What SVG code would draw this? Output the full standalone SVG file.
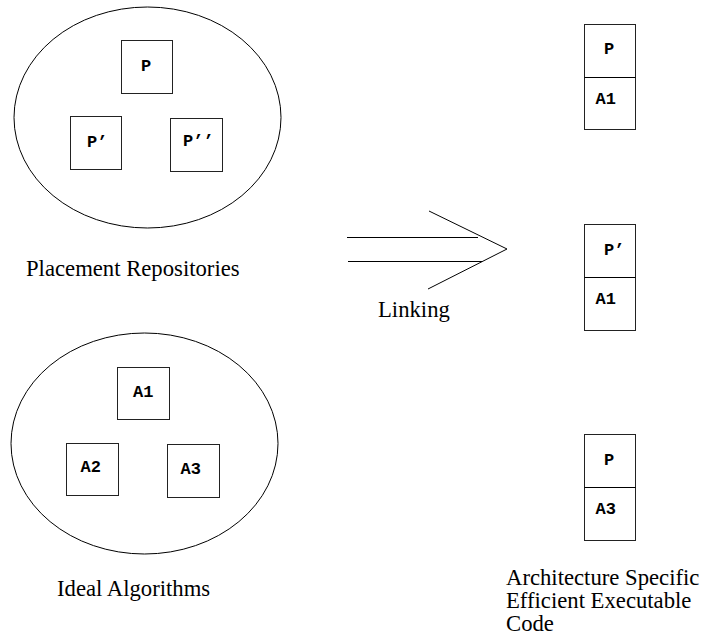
<svg xmlns="http://www.w3.org/2000/svg" width="702" height="636" viewBox="0 0 702 636">
  <style>
    .shape { fill: none; stroke: #000; stroke-width: 1; }
    .box { fill: #fff; stroke: #222; stroke-width: 1; }
    .code { font-family: "Liberation Mono", "Courier New", monospace; font-weight: bold; font-size: 17px; fill: #000; }
    .label { font-family: "Liberation Serif", "Times New Roman", serif; font-size: 22.7px; fill: #000; }
  </style>
  <rect width="702" height="636" fill="#fff"/>

  <!-- Placement repositories -->
  <g id="placement-repos">
    <ellipse class="shape" cx="147.5" cy="117.5" rx="133.5" ry="110.5"/>
  </g>
  <g id="repo-P">
    <rect class="box" x="121.5" y="40.5" width="51" height="53"/>
    <text class="code" x="141" y="71">P</text>
  </g>
  <g id="repo-P1">
    <rect class="box" x="70.5" y="116.5" width="51" height="53"/>
    <text class="code" x="87" y="147">P’</text>
  </g>
  <g id="repo-P2">
    <rect class="box" x="170.5" y="118.5" width="52" height="53"/>
    <text class="code" x="183" y="146">P’’</text>
  </g>
  <text id="label-placement" class="label" x="26" y="276">Placement Repositories</text>

  <!-- Ideal algorithms -->
  <g id="ideal-algos">
    <ellipse class="shape" cx="144.5" cy="443.5" rx="133.5" ry="110.5"/>
  </g>
  <g id="algo-A1">
    <rect class="box" x="117.5" y="367.5" width="52" height="52"/>
    <text class="code" x="133" y="397">A1</text>
  </g>
  <g id="algo-A2">
    <rect class="box" x="66.5" y="443.5" width="52" height="52"/>
    <text class="code" x="80.5" y="472">A2</text>
  </g>
  <g id="algo-A3">
    <rect class="box" x="167.5" y="444.5" width="52" height="53"/>
    <text class="code" x="180.5" y="473.5">A3</text>
  </g>
  <text id="label-ideal" class="label" x="57" y="596">Ideal Algorithms</text>

  <!-- Linking arrow -->
  <g id="connectors">
    <line class="shape" x1="347" y1="237.5" x2="478" y2="237.5"/>
    <line class="shape" x1="348" y1="261.5" x2="482" y2="261.5"/>
    <polyline class="shape" points="429,211 507,249 428,289"/>
  </g>
  <text id="label-linking" class="label" x="378" y="317">Linking</text>

  <!-- Linked executables -->
  <g id="exec-P-A1">
    <rect class="box" x="584.5" y="24.5" width="51" height="105"/>
    <line class="shape" x1="584.5" y1="77.5" x2="635.5" y2="77.5"/>
    <text class="code" x="604" y="53.5">P</text>
    <text class="code" x="595.5" y="103.5">A1</text>
  </g>
  <g id="exec-P1-A1">
    <rect class="box" x="584.5" y="224.5" width="51" height="106"/>
    <line class="shape" x1="584.5" y1="277.5" x2="635.5" y2="277.5"/>
    <text class="code" x="604" y="255">P’</text>
    <text class="code" x="595.5" y="304">A1</text>
  </g>
  <g id="exec-P-A3">
    <rect class="box" x="584.5" y="434.5" width="51" height="106"/>
    <line class="shape" x1="584.5" y1="487.5" x2="635.5" y2="487.5"/>
    <text class="code" x="604" y="464.5">P</text>
    <text class="code" x="595.5" y="514">A3</text>
  </g>
  <text id="label-exec" class="label" x="506">
    <tspan x="506" y="585">Architecture Specific</tspan>
    <tspan x="506" y="608">Efficient Executable</tspan>
    <tspan x="506" y="630.5">Code</tspan>
  </text>
</svg>
